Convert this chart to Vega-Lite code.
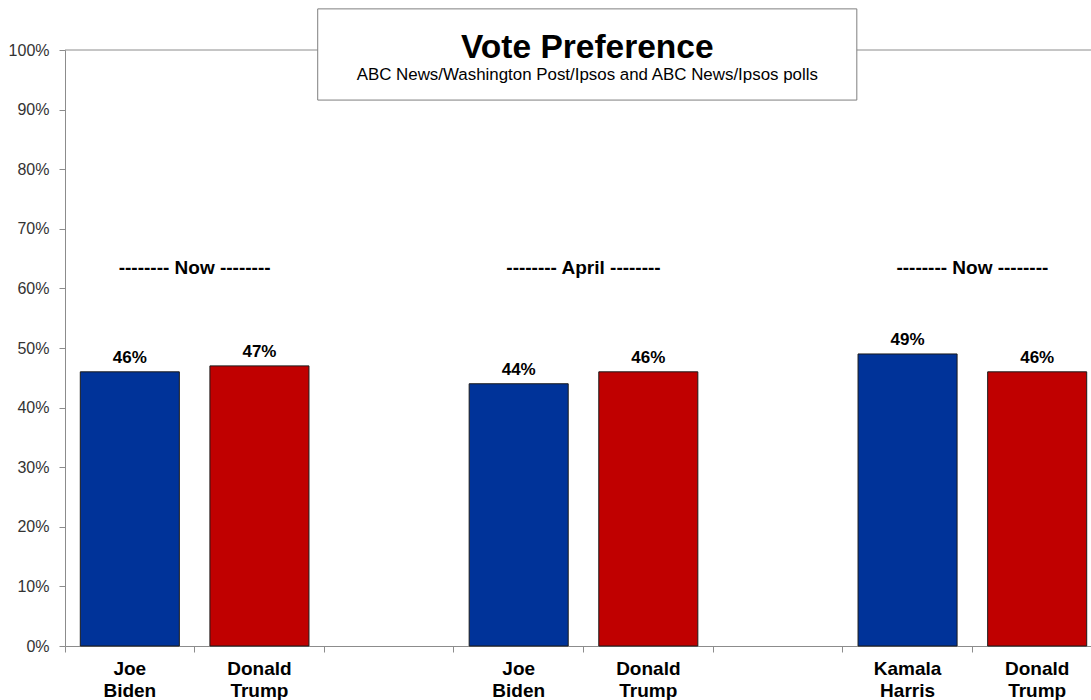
{
  "$schema": "https://vega.github.io/schema/vega-lite/v6.json",
  "width": 1026,
  "height": 596,
  "autosize": {"type": "none"},
  "padding": {"left": 65, "top": 50, "right": 0, "bottom": 54},
  "background": "white",
  "config": {"font": "Liberation Sans", "view": {"stroke": null}},
  "datasets": {
    "votes": [
      {"slot": "Joe|Biden", "candidate": "Joe Biden", "poll": "Now", "party": "Dem", "pct": 0.46},
      {"slot": "Donald|Trump", "candidate": "Donald Trump", "poll": "Now", "party": "Rep", "pct": 0.47},
      {"slot": "Joe|Biden ", "candidate": "Joe Biden", "poll": "April", "party": "Dem", "pct": 0.44},
      {"slot": "Donald|Trump ", "candidate": "Donald Trump", "poll": "April", "party": "Rep", "pct": 0.46},
      {"slot": "Kamala|Harris", "candidate": "Kamala Harris", "poll": "Now", "party": "Dem", "pct": 0.49},
      {"slot": "Donald|Trump  ", "candidate": "Donald Trump", "poll": "Now", "party": "Rep", "pct": 0.46}
    ],
    "groups": [
      {"slot": "Donald|Trump", "label": "-------- Now --------"},
      {"slot": "Donald|Trump ", "label": "-------- April --------"},
      {"slot": "Donald|Trump  ", "label": "-------- Now --------"}
    ],
    "heading": [
      {"title": "Vote Preference", "subtitle": "ABC News/Washington Post/Ipsos and ABC News/Ipsos polls"}
    ]
  },
  "layer": [
    {
      "layer": [
        {
          "data": {"name": "votes"},
          "mark": {"type": "bar", "width": {"band": 0.764}, "stroke": "#1a1a1a", "strokeWidth": 1},
          "encoding": {
            "x": {
              "field": "slot", "type": "nominal", "sort": null,
              "scale": {
                "domain": ["Joe|Biden", "Donald|Trump", " ", "Joe|Biden ", "Donald|Trump ", "  ", "Kamala|Harris", "Donald|Trump  "],
                "range": [0, 1037], "paddingInner": 0, "paddingOuter": 0
              },
              "axis": {
                "title": null, "labelAngle": 0, "bandPosition": 0,
                "labelExpr": "split(datum.value, '|')",
                "labelFontSize": 19, "labelFontWeight": "bold", "labelColor": "#000000",
                "labelLineHeight": 22, "labelPadding": 7,
                "tickSize": 6, "domainColor": "#8c8c8c", "tickColor": "#8c8c8c"
              }
            },
            "y": {
              "field": "pct", "type": "quantitative",
              "scale": {"domain": [0, 1]},
              "axis": {
                "title": null, "grid": false, "values": [0, 0.1, 0.2, 0.3, 0.4, 0.5, 0.6, 0.7, 0.8, 0.9, 1],
                "format": ".0%", "labelFontSize": 16, "labelColor": "#333333", "labelPadding": 10,
                "tickSize": 6, "domainColor": "#8c8c8c", "tickColor": "#8c8c8c"
              }
            },
            "color": {
              "field": "party", "type": "nominal",
              "scale": {"domain": ["Dem", "Rep"], "range": ["#003399", "#C00000"]},
              "legend": null
            }
          }
        },
        {
          "data": {"name": "votes"},
          "mark": {"type": "text", "fontSize": 17, "fontWeight": "bold", "color": "#000000", "baseline": "alphabetic", "dy": -9},
          "encoding": {
            "x": {"field": "slot", "type": "nominal", "sort": null},
            "y": {"field": "pct", "type": "quantitative"},
            "text": {"field": "pct", "type": "quantitative", "format": ".0%"}
          }
        },
        {
          "data": {"name": "groups"},
          "mark": {"type": "text", "fontSize": 19, "fontWeight": "bold", "color": "#000000", "baseline": "middle"},
          "encoding": {
            "x": {"field": "slot", "type": "nominal", "sort": null, "bandPosition": 0},
            "y": {"datum": 0.634, "type": "quantitative"},
            "text": {"field": "label", "type": "nominal"}
          }
        },
        {
          "data": {"values": [{}]},
          "mark": {"type": "rule", "color": "#8c8c8c", "strokeWidth": 1},
          "encoding": {"y": {"datum": 1, "type": "quantitative"}}
        }
      ]
    },
    {
      "layer": [
        {
          "data": {"values": [{}]},
          "mark": {"type": "rect", "fill": "#ffffff", "stroke": "#7f7f7f", "strokeWidth": 1},
          "encoding": {
            "x": {"datum": 1.95, "type": "quantitative", "scale": {"domain": [0, 7.917], "nice": false, "zero": false}, "axis": null},
            "x2": {"datum": 6.11},
            "y": {"datum": 1.069, "type": "quantitative"},
            "y2": {"datum": 0.916}
          }
        },
        {
          "data": {"name": "heading"},
          "mark": {"type": "text", "fontSize": 33.5, "fontWeight": "bold", "color": "#000000", "baseline": "middle"},
          "encoding": {
            "x": {"datum": 4.03, "type": "quantitative"},
            "y": {"datum": 1.003, "type": "quantitative"},
            "text": {"field": "title", "type": "nominal"}
          }
        },
        {
          "data": {"name": "heading"},
          "mark": {"type": "text", "fontSize": 16.9, "color": "#000000", "baseline": "middle"},
          "encoding": {
            "x": {"datum": 4.03, "type": "quantitative"},
            "y": {"datum": 0.958, "type": "quantitative"},
            "text": {"field": "subtitle", "type": "nominal"}
          }
        }
      ]
    }
  ],
  "resolve": {"scale": {"x": "independent"}}
}
